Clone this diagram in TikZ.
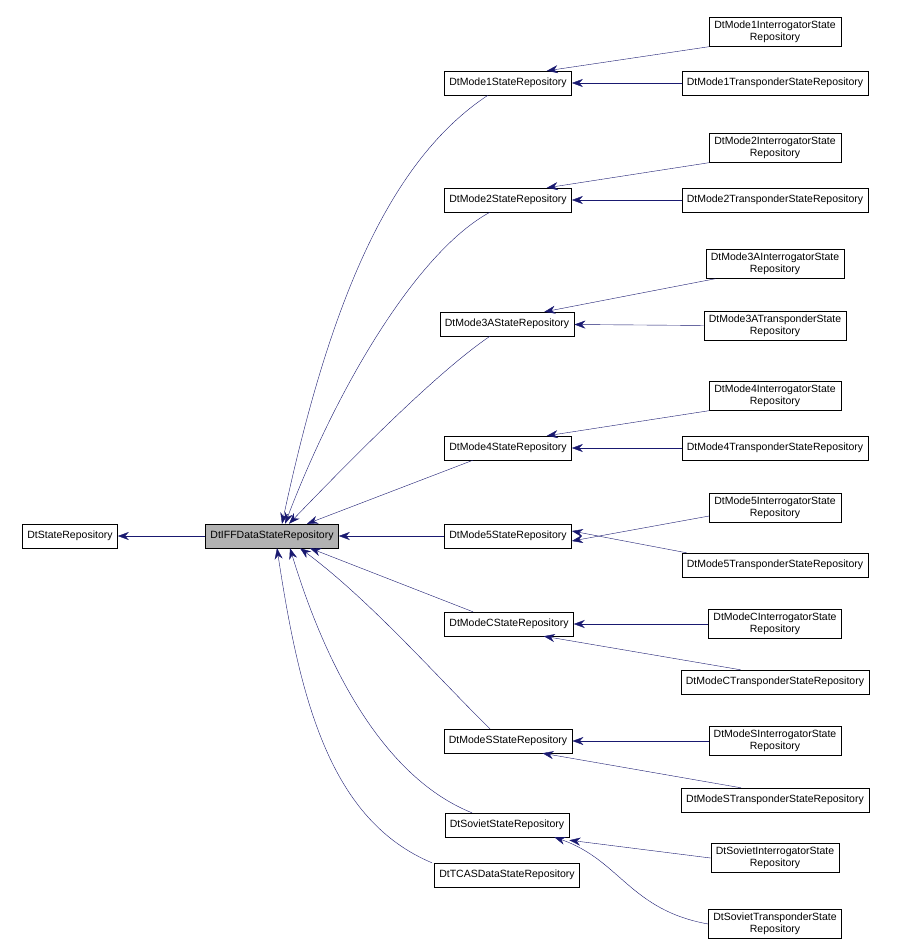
\documentclass[tikz,border=0pt]{standalone}
\usepackage{fontspec}
\setmainfont{Liberation Sans}
\usetikzlibrary{calc,arrows.meta}
\definecolor{edgeblue}{HTML}{191970}
\begin{document}
\begin{tikzpicture}[x=1pt,y=-1pt,
  cls/.style={draw, fill=white, font=\fontsize{10.5}{12.5}\selectfont, align=center, inner xsep=5pt, minimum height=24pt},
  edge/.style={draw=edgeblue, {Stealth[length=11pt,width=8pt]}-}]
\useasboundingbox (0,0) rectangle (904,951);

% base classes
\node[cls] (base) at (70,536) {DtStateRepository};
\node[cls, fill=gray!60] (iff) at (272,536) {DtIFFDataStateRepository};

% mode repositories
\node[cls] (m1) at (508,83) {DtMode1StateRepository};
\node[cls] (m2) at (508,200) {DtMode2StateRepository};
\node[cls] (m3) at (507,324) {DtMode3AStateRepository};
\node[cls] (m4) at (508,448) {DtMode4StateRepository};
\node[cls] (m5) at (508,536) {DtMode5StateRepository};
\node[cls] (mc) at (509,624) {DtModeCStateRepository};
\node[cls] (ms) at (508,741) {DtModeSStateRepository};
\node[cls] (sov) at (507,825) {DtSovietStateRepository};
\node[cls] (tcas) at (507,875) {DtTCASDataStateRepository};

% interrogators and transponders
\node[cls] (m1i) at (775,32) {DtMode1InterrogatorState\\Repository};
\node[cls] (m1t) at (775,83) {DtMode1TransponderStateRepository};
\node[cls] (m2i) at (775,148) {DtMode2InterrogatorState\\Repository};
\node[cls] (m2t) at (775,200) {DtMode2TransponderStateRepository};
\node[cls] (m3i) at (775,264) {DtMode3AInterrogatorState\\Repository};
\node[cls] (m3t) at (775,326) {DtMode3ATransponderState\\Repository};
\node[cls] (m4i) at (775,396) {DtMode4InterrogatorState\\Repository};
\node[cls] (m4t) at (775,448) {DtMode4TransponderStateRepository};
\node[cls] (m5i) at (775,508) {DtMode5InterrogatorState\\Repository};
\node[cls] (m5t) at (775,565) {DtMode5TransponderStateRepository};
\node[cls] (mci) at (775,624) {DtModeCInterrogatorState\\Repository};
\node[cls] (mct) at (775,682) {DtModeCTransponderStateRepository};
\node[cls] (msi) at (775,741) {DtModeSInterrogatorState\\Repository};
\node[cls] (mst) at (775,800) {DtModeSTransponderStateRepository};
\node[cls] (sovi) at (775,858) {DtSovietInterrogatorState\\Repository};
\node[cls] (sovt) at (775,924) {DtSovietTransponderState\\Repository};

% inheritance edges
\draw[edge] (base) -- (iff);
\draw[edge] ([xshift=10pt]iff.north) .. controls (330,300) and (390,160) .. ([xshift=-20pt]m1.south);
\draw[edge] ([xshift=13pt]iff.north) .. controls (340,380) and (420,250) .. ([xshift=-18pt]m2.south);
\draw[edge] ([xshift=17pt]iff.north) .. controls (360,450) and (440,370) .. ([xshift=-17pt]m3.south);
\draw[edge] ([xshift=35pt]iff.north) -- ([xshift=-35pt]m4.south);
\draw[edge] (iff) -- (m5);
\draw[edge] ([xshift=38pt]iff.south) -- ([xshift=-36pt]mc.north);
\draw[edge] ([xshift=28pt]iff.south) .. controls (370,600) and (440,680) .. ([xshift=-18pt]ms.north);
\draw[edge] ([xshift=18pt]iff.south) .. controls (330,680) and (390,780) .. ([xshift=-35pt]sov.north);
\draw[edge] ([xshift=5pt]iff.south) .. controls (300,700) and (330,820) .. ([xshift=-75pt]tcas.north);

\draw[edge] ([xshift=-25pt]m1.north east) -- (m1i.west |- m1i.south);
\draw[edge] (m1) -- (m1t);
\draw[edge] ([xshift=-25pt]m2.north east) -- (m2i.west |- m2i.south);
\draw[edge] (m2) -- (m2t);
\draw[edge] ([xshift=-30pt]m3.north east) -- ([xshift=10pt]m3i.south west);
\draw[edge] (m3) -- (m3t);
\draw[edge] ([xshift=-25pt]m4.north east) -- (m4i.west |- m4i.south);
\draw[edge] (m4) -- (m4t);
\draw[edge] ([yshift=-5pt]m5.east) -- ([yshift=-8pt]m5i.west);
\draw[edge] ([yshift=5pt]m5.east) -- ([xshift=5pt]m5t.north west);
\draw[edge] (mc) -- (mci);
\draw[edge] ([xshift=-30pt]mc.south east) -- ([xshift=60pt]mct.north west);
\draw[edge] (ms) -- (msi);
\draw[edge] ([xshift=-30pt]ms.south east) -- ([xshift=60pt]mst.north west);
\draw[edge] ([yshift=-3pt]sov.south east) -- (sovi.west);
\draw[edge] ([xshift=-15pt]sov.south east) .. controls (620,860) and (630,910) .. (sovt.west);
\end{tikzpicture}
\end{document}
